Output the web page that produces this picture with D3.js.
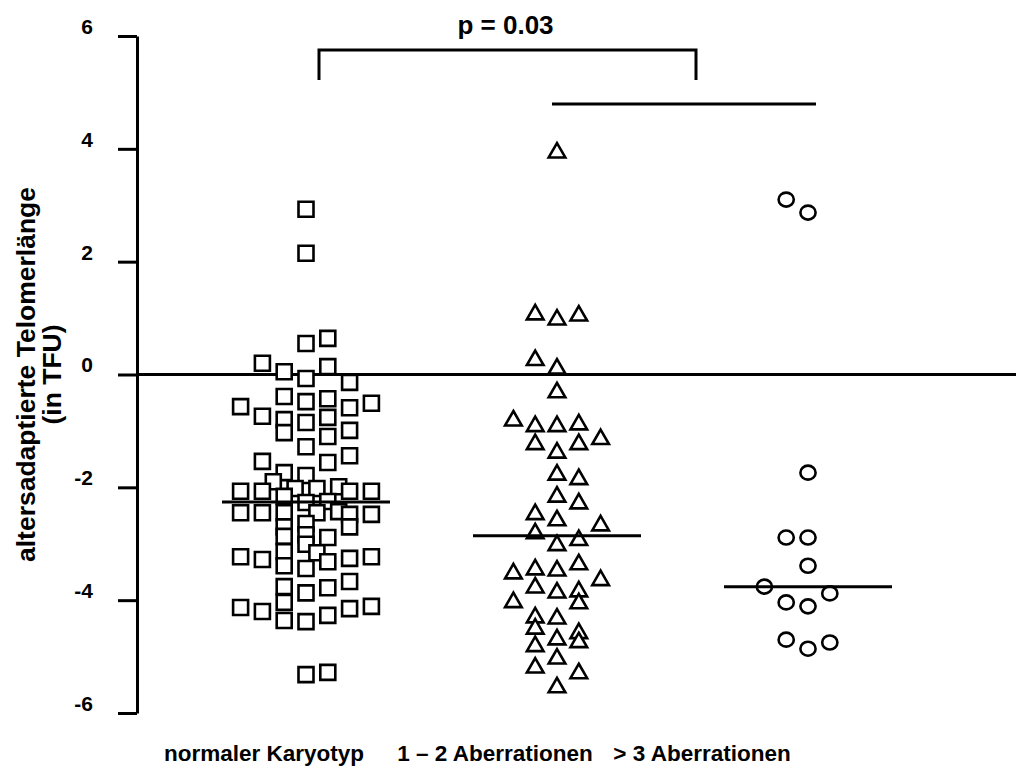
<!DOCTYPE html>
<html>
<head>
<meta charset="utf-8">
<script src="https://cdn.jsdelivr.net/npm/d3@7/dist/d3.min.js"></script>
<style>
  html, body { margin: 0; padding: 0; background: #fff; }
  svg { display: block; }
  text { font-family: "Liberation Sans", Arial, sans-serif; font-weight: bold; fill: #000; }
</style>
</head>
<body>
<svg id="chart" width="1016" height="771"></svg>
<script>
// Groups along the x axis
const categories = ["normaler Karyotyp", "1 – 2 Aberrationen", "> 3 Aberrationen"];

// Age-adjusted telomere length (TFU) per patient, with the scatter lane of each point
const normalValues = [
  2.93, 2.15, 0.55, 0.64, 0.20, 0.05, -0.07, 0.14, -0.14,
  -0.39, -0.48, -0.43, -0.59, -0.51, -0.57, -0.74, -0.80, -0.85, -0.76,
  -1.03, -1.10, -0.99, -1.28, -1.44, -1.54, -1.56, -1.74, -1.79, -1.90,
  -2.02, -2.02, -1.99, -2.07, -2.07, -2.07, -2.07, -2.16, -2.27, -2.25,
  -2.45, -2.43, -2.45, -2.45, -2.45, -2.48, -2.48, -2.64, -2.70, -2.70,
  -2.87, -2.84, -2.89, -3.01, -3.16, -3.14, -3.32, -3.26, -3.23, -3.23,
  -3.28, -3.39, -3.44, -3.76, -3.87, -3.78, -3.67, -4.04, -4.13, -4.20,
  -4.15, -4.11, -4.27, -4.36, -4.38, -5.32, -5.28
];
const normalLanes = [
  0, 0, 0, 1, -2, -1, 0, 1, 2,
  -1, 0, 1, 2, 3, -3, -2, -1, 0, 1,
  -1, 1, 2, 0, 2, -2, 1, -1, 0, -1.5,
  -0.5, 0.5, 1.5, -3, -2, 2, 3, -1, 0, 1,
  0.5, 1.5, -3, -2, -1, 2, 3, 0, 2, -1,
  -1, 0, 1, 0, 0.5, -1, 1, 2, 3, -3,
  -2, -1, 0, -1, 0, 1, 2, -1, -3, -2,
  2, 3, 1, -1, 0, 0, 1
];

const aberr12Values = [
  3.95, 1.08, 0.99, 1.06, 0.27, 0.12, -0.30,
  -0.80, -0.90, -0.90, -0.87, -1.13, -1.22, -1.22, -1.37, -1.76, -1.84,
  -2.15, -2.27, -2.46, -2.57, -2.66, -2.80,
  -2.92, -3.01, -3.51, -3.44, -3.46, -3.35, -3.63, -3.76, -3.85, -3.83,
  -4.02, -4.04, -4.29, -4.31, -4.49, -4.57, -4.73, -4.68, -4.80, -5.02,
  -5.18, -5.28, -5.53
];
const aberr12Lanes = [
  0, -1, 0, 1, -1, 0, 0,
  -2, -1, 0, 1, 2, -1, 1, 0, 0, 1,
  0, 1, -1, 0, 2, -1,
  1, 0, -2, -1, 0, 1, 2, -1, 0, 1,
  -2, 1, -1, 0, -1, 1, 1, 0, -1, 0,
  -1, 1, 0
];

const aberr3Values = [3.10, 2.87, -1.74, -2.89, -2.89, -3.39, -3.76, -3.88, -4.04, -4.11, -4.70, -4.86, -4.75];
const aberr3Lanes  = [-1, 0, 0, -1, 0, 0, -2, 1, -1, 0, -1, 0, 1];

const yTicks = [-6, -4, -2, 0, 2, 4, 6];
const yTitle = ["altersadaptierte Telomerlänge", "(in TFU)"];
const pLabel = "p = 0.03";

const groups = [
  { name: categories[0], values: normalValues, lanes: normalLanes, symbol: "square" },
  { name: categories[1], values: aberr12Values, lanes: aberr12Lanes, symbol: "triangle" },
  { name: categories[2], values: aberr3Values, lanes: aberr3Lanes, symbol: "circle" }
];

const svg = d3.select("#chart");
const axisX = 137;

const y = d3.scaleLinear().domain([-6, 6]).range([713, 36]);
const x = d3.scalePoint().domain(categories).range([306, 808]);
const lane = d3.scaleLinear().domain([-1, 1]).range([-21.8, 21.8]);
const labelX = d3.scaleOrdinal().domain(categories).range([264, 495, 702]);

// reference line at zero
svg.append("line")
  .attr("x1", axisX).attr("x2", 1016)
  .attr("y1", y(0)).attr("y2", y(0))
  .attr("stroke", "#000").attr("stroke-width", 3);

// y axis
const yAxis = d3.axisLeft(y)
  .tickValues(yTicks)
  .tickFormat(d => String(d))
  .tickSizeInner(19)
  .tickSizeOuter(0)
  .tickPadding(25);

const gAxis = svg.append("g")
  .attr("transform", `translate(${axisX},0)`)
  .call(yAxis);
gAxis.select(".domain").attr("stroke", "#000").attr("stroke-width", 3);
gAxis.selectAll(".tick line").attr("stroke", "#000").attr("stroke-width", 3);
gAxis.selectAll(".tick text")
  .attr("font-family", "'Liberation Sans', Arial, sans-serif")
  .attr("font-weight", "bold")
  .attr("font-size", 21)
  .attr("fill", "#000")
  .attr("dy", "-0.12em");

// y axis title
const titleG = svg.append("g").attr("transform", `translate(0,${y(0)}) rotate(-90)`);
titleG.selectAll("text").data(yTitle).join("text")
  .attr("x", 0)
  .attr("y", (d, i) => 35 + i * 26)
  .attr("text-anchor", "middle")
  .attr("font-size", 26.5)
  .text(d => d);

// data points
const symbolGen = {
  square: d3.symbol().type(d3.symbolSquare).size(15 * 15),
  triangle: d3.symbol().type(d3.symbolTriangle).size(120)
};

groups.forEach(g => {
  const pts = g.values.map((v, i) => ({ v, l: g.lanes[i] }));
  const cx = x(g.name);
  const layer = svg.append("g");
  if (g.symbol === "circle") {
    layer.selectAll("ellipse").data(pts).join("ellipse")
      .attr("cx", d => cx + lane(d.l))
      .attr("cy", d => y(d.v))
      .attr("rx", 7.6).attr("ry", 7)
      .attr("fill", "#fff").attr("stroke", "#000").attr("stroke-width", 2.6);
  } else {
    layer.selectAll("path").data(pts).join("path")
      .attr("transform", d => `translate(${cx + lane(d.l)},${y(d.v) + (g.symbol === "triangle" ? 1 : 0)})`)
      .attr("d", symbolGen[g.symbol])
      .attr("fill", "#fff").attr("stroke", "#000").attr("stroke-width", 2.6)
      .attr("stroke-linejoin", "miter");
  }
  // median
  const med = d3.median(g.values);
  svg.append("line")
    .attr("x1", cx - 84).attr("x2", cx + 84)
    .attr("y1", y(med)).attr("y2", y(med))
    .attr("stroke", "#000").attr("stroke-width", 3);
});

// significance bracket
const bx1 = 319, bx2 = 696, by = 50, bdrop = 30;
svg.append("path")
  .attr("d", `M${bx1},${by + bdrop}V${by}H${bx2}V${by + bdrop}`)
  .attr("fill", "none").attr("stroke", "#000").attr("stroke-width", 3);
svg.append("line")
  .attr("x1", 552).attr("x2", 816).attr("y1", 104).attr("y2", 104)
  .attr("stroke", "#000").attr("stroke-width", 3);
svg.append("text")
  .attr("x", (bx1 + bx2) / 2 - 2).attr("y", 34)
  .attr("text-anchor", "middle")
  .attr("font-size", 26)
  .text(pLabel);

// category labels
svg.selectAll(".cat").data(categories).join("text")
  .attr("class", "cat")
  .attr("x", d => labelX(d))
  .attr("y", 761)
  .attr("text-anchor", "middle")
  .attr("font-size", 22.5)
  .text(d => d);
</script>
</body>
</html>
